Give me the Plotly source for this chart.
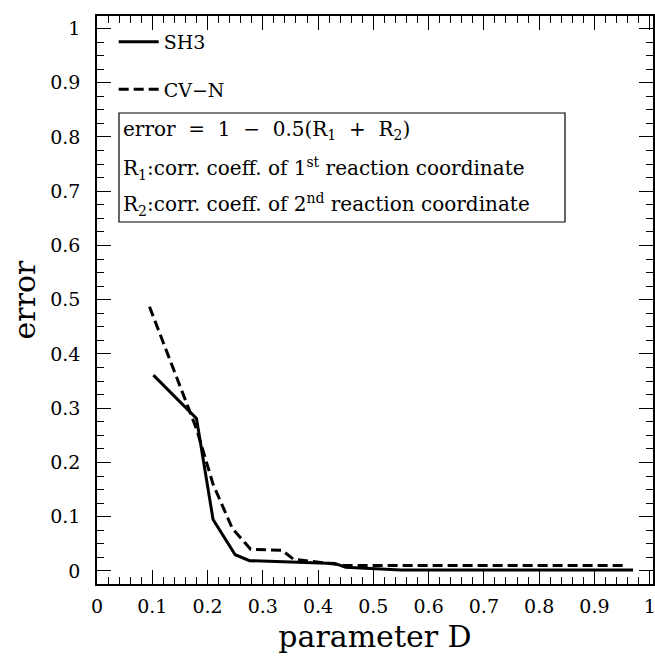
import plotly.graph_objects as go

# ---- data ----
sh3_D = [0.102, 0.18, 0.21, 0.25, 0.276, 0.43, 0.45, 0.55, 0.97]
sh3_err = [0.361, 0.281, 0.095, 0.030, 0.019, 0.014, 0.007, 0.002, 0.002]

cvn_D = [0.095, 0.18, 0.21, 0.245, 0.278, 0.335, 0.355, 0.43, 0.45, 0.96]
cvn_err = [0.487, 0.262, 0.160, 0.078, 0.040, 0.038, 0.022, 0.013, 0.010, 0.010]

x_ticks = [0, 0.1, 0.2, 0.3, 0.4, 0.5, 0.6, 0.7, 0.8, 0.9, 1]
x_ticklabels = ["0", "0.1", "0.2", "0.3", "0.4", "0.5", "0.6", "0.7", "0.8", "0.9", "1"]
y_ticks = [0, 0.1, 0.2, 0.3, 0.4, 0.5, 0.6, 0.7, 0.8, 0.9, 1]
y_ticklabels = ["0", "0.1", "0.2", "0.3", "0.4", "0.5", "0.6", "0.7", "0.8", "0.9", "1"]

box_lines = [
    "error  =  1  \u2212  0.5(R<sub>1</sub>  +  R<sub>2</sub>)",
    "R<sub>1</sub>:corr. coeff. of 1<sup>st</sup> reaction coordinate",
    "R<sub>2</sub>:corr. coeff. of 2<sup>nd</sup> reaction coordinate",
]

FONT = "DejaVu Serif"

fig = go.Figure()
fig.add_trace(go.Scatter(x=sh3_D, y=sh3_err, mode="lines", name="SH3", legendgroup="a",
                         line=dict(color="black", width=3)))
fig.add_trace(go.Scatter(x=cvn_D, y=cvn_err, mode="lines", name="CV\u2212N", legendgroup="b",
                         line=dict(color="black", width=3, dash="10px,5px")))

axis_common = dict(
    showline=True, linecolor="black", linewidth=1.5, mirror="ticks",
    ticks="inside", ticklen=14, tickwidth=1.2, tickcolor="black",
    showgrid=False, zeroline=False, automargin=False, ticklabeloverflow="allow",
    tickfont=dict(family=FONT, size=19, color="black"),
)

fig.update_xaxes(
    range=[0, 1.006], tickmode="linear", tick0=x_ticks[0], dtick=x_ticks[1] - x_ticks[0],
    labelalias={str(v): t for v, t in zip(x_ticks, x_ticklabels)},
    minor=dict(dtick=0.02, ticks="inside", ticklen=7,
               tickwidth=1.2, tickcolor="black", showgrid=False),
    title=dict(text="parameter D", font=dict(family=FONT, size=30, color="black"), standoff=10),
    ticklabelstandoff=4,
    **axis_common,
)
fig.update_yaxes(
    range=[-0.024, 1.023], tickmode="linear", tick0=y_ticks[0], dtick=y_ticks[1] - y_ticks[0],
    labelalias={str(v): t for v, t in zip(y_ticks, y_ticklabels)},
    minor=dict(dtick=0.025, ticks="inside", ticklen=7,
               tickwidth=1.2, tickcolor="black", showgrid=False),
    title=dict(text="error", font=dict(family=FONT, size=30, color="black"), standoff=6),
    ticklabelstandoff=11,
    **axis_common,
)

# text box with formula
fig.add_shape(type="rect", xref="paper", yref="paper",
              x0=(119 - 97) / 556, x1=(565 - 97) / 556,
              y0=(584 - 222) / 568, y1=(584 - 113) / 568,
              line=dict(color="black", width=1.2), fillcolor="rgba(0,0,0,0)")
for txt, ypix in zip(box_lines, [130, 168, 205]):
    fig.add_annotation(xref="paper", yref="paper", x=(121 - 97) / 556, y=(584 - ypix) / 568,
                       text=txt, showarrow=False, xanchor="left", yanchor="middle",
                       font=dict(family=FONT, size=20, color="black"))

fig.update_layout(
    width=655, height=657,
    margin=dict(l=97, r=2, t=16, b=73),
    paper_bgcolor="white", plot_bgcolor="white",
    showlegend=True,
    legend=dict(x=0.03, y=0.988, xanchor="left", yanchor="top",
                bgcolor="rgba(0,0,0,0)", borderwidth=0,
                font=dict(family=FONT, size=19, color="black"),
                tracegroupgap=20, traceorder="grouped", itemwidth=40),
)

fig.write_html(
    "out.html",
    config={"displayModeBar": False},
    post_script="document.body.style.margin='0';document.body.style.overflow='hidden';",
)
